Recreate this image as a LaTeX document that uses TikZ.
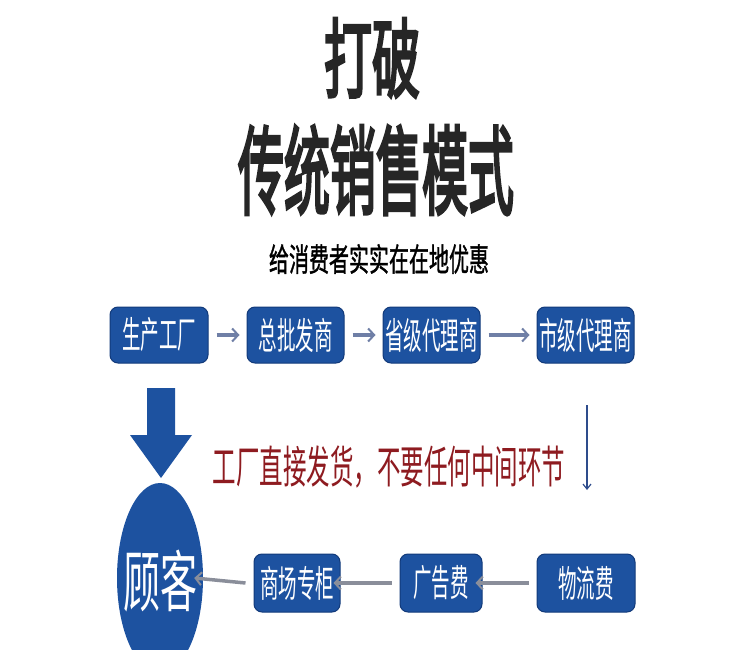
\documentclass[tikz,border=0pt]{standalone}
\usepackage{fontspec}
\usepackage{graphicx}
\usetikzlibrary{arrows.meta,shapes.geometric}
\newfontfamily\cjk{Noto Sans CJK SC}
\newfontfamily\cjkb[FakeBold=4]{Noto Sans CJK SC}
\newfontfamily\cjkm[FakeBold=1.5]{Noto Sans CJK SC}
\newcommand\tallt[2]{\scalebox{1}[#1]{#2}}
\newcommand\boxtxt[1]{\cjk\fontsize{18.5}{18.5}\selectfont\tallt{2.0}{#1}}
\definecolor{boxblue}{HTML}{1D52A0}
\definecolor{boxdark}{HTML}{123A7A}
\definecolor{arrgray}{HTML}{6F7FA6}
\definecolor{botgray}{HTML}{8A8E9A}
\definecolor{darkred}{HTML}{8E1B20}
\definecolor{titlegray}{HTML}{262626}
\definecolor{thinblue}{HTML}{2E4C8C}
\tikzset{
  bluebox/.style={rectangle, rounded corners=8pt, fill=boxblue, draw=boxdark, line width=1pt,
    minimum height=56pt, inner sep=0pt, text=white},
  toparrow/.style={draw=arrgray, line width=3.5pt, -{Straight Barb[length=6pt,width=13pt,line width=2pt]}},
  botarrow/.style={draw=botgray, line width=3.5pt, -{Straight Barb[length=6pt,width=13pt,line width=2pt]}},
}
\begin{document}
\begin{tikzpicture}[x=1pt,y=-1pt]
\useasboundingbox (0,0) rectangle (750,650);
\fill[white] (0,0) rectangle (750,650);
% titles
\node[text=titlegray, inner sep=0pt] (t1) at (372,58) {\cjkb\fontsize{48}{48}\selectfont\tallt{1.8}{打破}};
\node[text=titlegray, inner sep=0pt] (t2) at (376,170) {\cjkb\fontsize{46}{46}\selectfont\tallt{2.1}{传统销售模式}};
\node[text=black, inner sep=0pt] (t3) at (379,259) {\cjkm\fontsize{20}{20}\selectfont\tallt{1.6}{给消费者实实在在地优惠}};
% top row
\node[bluebox, minimum width=98pt] (b1) at (159,335) {\boxtxt{生产工厂}};
\node[bluebox, minimum width=97pt] (b2) at (295.5,335) {\boxtxt{总批发商}};
\node[bluebox, minimum width=97pt] (b3) at (431.5,335) {\boxtxt{省级代理商}};
\node[bluebox, minimum width=97pt] (b4) at (585.5,335) {\boxtxt{市级代理商}};
\draw[toparrow] ([xshift=8pt]b1.east) -- ([xshift=-7pt]b2.west);
\draw[toparrow] ([xshift=8pt]b2.east) -- ([xshift=-7pt]b3.west);
\draw[toparrow] ([xshift=8pt]b3.east) -- ([xshift=-7pt]b4.west);
% big down arrow
\fill[boxblue] (147,388) -- (175,388) -- (175,435) -- (192,435) -- (161,478) -- (130,435) -- (147,435) -- cycle;
% customer ellipse
\node[ellipse, fill=boxblue, minimum width=86pt, minimum height=190pt, inner sep=0pt] (c) at (160,578) {};
\node[text=white, inner sep=0pt] (ct) at (160,581) {\cjk\fontsize{37}{37}\selectfont\tallt{1.8}{顾客}};
% red text
\node[text=darkred, inner sep=0pt] (rt) at (389,467) {\cjk\fontsize{23.5}{23.5}\selectfont\tallt{1.9}{工厂直接发货，不要任何中间环节}};
% thin arrow
\coordinate (ta) at (587,405);
\coordinate (tb) at (587,490);
\draw[thinblue, line width=1.2pt, -{Straight Barb[length=5pt,width=8pt]}] (ta) -- (tb);
% bottom row
\node[bluebox, minimum width=98pt, minimum height=58pt] (d1) at (586,583) {\boxtxt{物流费}};
\node[bluebox, minimum width=82pt, minimum height=58pt] (d2) at (441,583) {\boxtxt{广告费}};
\node[bluebox, minimum width=86pt, minimum height=58pt] (d3) at (297,583) {\boxtxt{商场专柜}};
\draw[botarrow] ([xshift=-8pt]d1.west) -- ([xshift=-7pt]d2.east);
\draw[botarrow] ([xshift=-8pt]d2.west) -- ([xshift=-7pt]d3.east);
\draw[botarrow] ([xshift=-8pt]d3.west) -- ([xshift=-9pt]c.east);
\end{tikzpicture}
\end{document}
